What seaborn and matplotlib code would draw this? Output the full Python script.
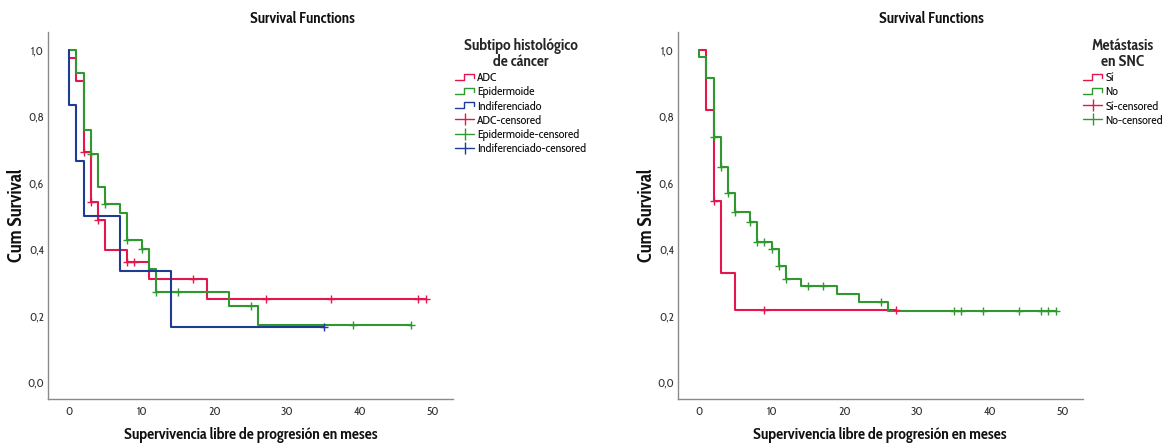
import matplotlib
matplotlib.use("Agg")
import matplotlib.pyplot as plt
import pandas as pd
import seaborn as sns
from matplotlib.lines import Line2D
from matplotlib.legend_handler import HandlerBase

# ---------------- data ----------------
# Left panel: Subtipo histológico de cáncer
adc_t = [0, 0, 1, 2, 3, 4, 5, 8, 11, 19, 49]
adc_s = [1.0, 0.977, 0.907, 0.694, 0.542, 0.487, 0.397, 0.361, 0.310, 0.249, 0.249]
adc_ct = [2, 3, 4, 8, 9, 17, 27, 36, 48, 49]
adc_cs = [0.694, 0.542, 0.487, 0.361, 0.361, 0.310, 0.249, 0.249, 0.249, 0.249]

epi_t = [0, 1, 2, 3, 4, 5, 7, 8, 10, 11, 12, 22, 26, 47]
epi_s = [1.0, 0.930, 0.760, 0.687, 0.586, 0.535, 0.510, 0.429, 0.400, 0.340, 0.272, 0.229, 0.173, 0.173]
epi_ct = [3, 5, 8, 10, 12, 15, 25, 39, 47]
epi_cs = [0.687, 0.535, 0.429, 0.400, 0.272, 0.272, 0.229, 0.173, 0.173]

ind_t = [0, 0, 1, 2, 7, 14, 35]
ind_s = [1.0, 0.833, 0.667, 0.500, 0.333, 0.167, 0.167]
ind_ct = [35]
ind_cs = [0.167]

# Right panel: Metástasis en SNC
si_t = [0, 1, 2, 3, 5, 27]
si_s = [1.0, 0.818, 0.545, 0.327, 0.218, 0.218]
si_ct = [2, 9, 27]
si_cs = [0.545, 0.218, 0.218]

no_t = [0, 0, 1, 2, 3, 4, 5, 7, 8, 10, 11, 12, 14, 19, 22, 26, 49]
no_s = [1.0, 0.978, 0.914, 0.738, 0.649, 0.568, 0.511, 0.482, 0.421, 0.402,
        0.348, 0.311, 0.290, 0.266, 0.242, 0.2145, 0.2145]
no_ct = [2, 3, 4, 5, 7, 8, 9, 10, 11, 12, 15, 17, 25, 35, 36, 39, 44, 47, 48, 49]
no_cs = [0.738, 0.649, 0.568, 0.511, 0.482, 0.421, 0.421, 0.402, 0.348, 0.311,
         0.290, 0.290, 0.242, 0.2145, 0.2145, 0.2145, 0.2145, 0.2145, 0.2145, 0.2145]

x_ticks = [0, 10, 20, 30, 40, 50]
y_ticks = [0.0, 0.2, 0.4, 0.6, 0.8, 1.0]
y_tick_labels = ["0,0", "0,2", "0,4", "0,6", "0,8", "1,0"]

left_labels = ["ADC", "Epidermoide", "Indiferenciado"]
right_labels = ["Sí", "No"]

RED = "#E3174B"
GREEN = "#2F992F"
BLUE = "#1E3C93"

# ---------------- style ----------------
sns.set_theme(style="white")
plt.rcParams['font.family'] = ['Cabin Condensed', 'DejaVu Sans']

W, H = 1163, 444
fig = plt.figure(figsize=(W / 100, H / 100), dpi=100)

def fx(px):
    return px / W

def fy(py):
    return 1 - py / H

ax1 = fig.add_axes([fx(48), fy(399), fx(453) - fx(48), fy(32) - fy(399)])
ax2 = fig.add_axes([fx(678), fy(399), fx(1083) - fx(678), fy(32) - fy(399)])


def draw_group(ax, t, s, ct, cs, color):
    df = pd.DataFrame({'t': t, 's': s})
    sns.lineplot(data=df, x='t', y='s', ax=ax, estimator=None, sort=False,
                 drawstyle='steps-post', color=color, linewidth=1.5)
    cdf = pd.DataFrame({'t': ct, 's': cs})
    sns.scatterplot(data=cdf, x='t', y='s', ax=ax, marker='+', s=40,
                    color=color, linewidth=1.0, zorder=3)


class StepLine(Line2D):
    pass


class StepHandler(HandlerBase):
    def create_artists(self, legend, orig_handle, xdescent, ydescent, width,
                       height, fontsize, trans):
        x0, y0 = -xdescent, -ydescent
        xs = [x0, x0 + 0.45 * width, x0 + 0.45 * width, x0 + width, x0 + width]
        ys = [y0 + 0.15 * height, y0 + 0.15 * height, y0 + 0.9 * height,
              y0 + 0.9 * height, y0 + 0.4 * height]
        ln = Line2D(xs, ys, color=orig_handle.get_color(), lw=1.0,
                    transform=trans)
        return [ln]


def style_axes(ax):
    ax.set_xlim(-2.88, 52.75)
    ax.set_ylim(-0.051, 1.054)
    ax.set_xticks(x_ticks)
    ax.set_xticklabels([str(v) for v in x_ticks])
    ax.set_yticks(y_ticks)
    ax.set_yticklabels(y_tick_labels)
    ax.tick_params(axis='both', length=0, labelsize=8.5, colors='#333333')
    ax.tick_params(axis='x', pad=5)
    ax.tick_params(axis='y', pad=3)
    for sp in ['top', 'right']:
        ax.spines[sp].set_visible(False)
    for sp in ['left', 'bottom']:
        ax.spines[sp].set_color('#8a8a8a')
        ax.spines[sp].set_linewidth(1.0)
    ax.set_xlabel('')
    ax.set_ylabel('')


# Left panel
draw_group(ax1, adc_t, adc_s, adc_ct, adc_cs, RED)
draw_group(ax1, epi_t, epi_s, epi_ct, epi_cs, GREEN)
draw_group(ax1, ind_t, ind_s, ind_ct, ind_cs, BLUE)
style_axes(ax1)

# Right panel
draw_group(ax2, si_t, si_s, si_ct, si_cs, RED)
draw_group(ax2, no_t, no_s, no_ct, no_cs, GREEN)
style_axes(ax2)

# Titles and axis labels
for cx in (302, 931):
    fig.text(fx(cx), fy(19), "Survival Functions", ha='center', va='center',
             fontsize=11, fontweight='bold', color='#111111')
for cx in (17, 647):
    fig.text(fx(cx), fy(215), "Cum Survival", ha='center', va='center',
             rotation=90, fontsize=13.5, fontweight='bold', color='#111111')
for cx in (251, 880):
    fig.text(fx(cx), fy(435), "Supervivencia libre de progresión en meses",
             ha='center', va='center', fontsize=11.3, fontweight='bold',
             color='#111111')


def make_legend(ax, labels, colors, title, x_px, y_px):
    handles = [StepLine([], [], color=c) for c in colors]
    handles += [Line2D([], [], color=c, lw=1.0, marker='|', markersize=9,
                       markeredgewidth=1.0) for c in colors]
    labs = list(labels) + [l + "-censored" for l in labels]
    leg = ax.legend(handles, labs, loc='upper left',
                    bbox_to_anchor=(fx(x_px), fy(y_px)),
                    bbox_transform=fig.transFigure, frameon=False,
                    title=title, fontsize=8.7, title_fontsize=11.3,
                    handlelength=1.6, handletextpad=0.25, labelspacing=0.18,
                    borderpad=0, borderaxespad=0, numpoints=1,
                    handler_map={StepLine: StepHandler()})
    leg.get_title().set_fontweight('bold')
    leg.get_title().set_multialignment('center')
    leg.get_title().set_linespacing(1.0)
    for t in leg.get_texts():
        t.set_color('#111111')
    return leg


make_legend(ax1, left_labels, [RED, GREEN, BLUE],
            "Subtipo histológico\nde cáncer", 455, 38)
make_legend(ax2, right_labels, [RED, GREEN],
            "Metástasis\nen SNC", 1083, 38)

fig.savefig("out.png", dpi=100)
